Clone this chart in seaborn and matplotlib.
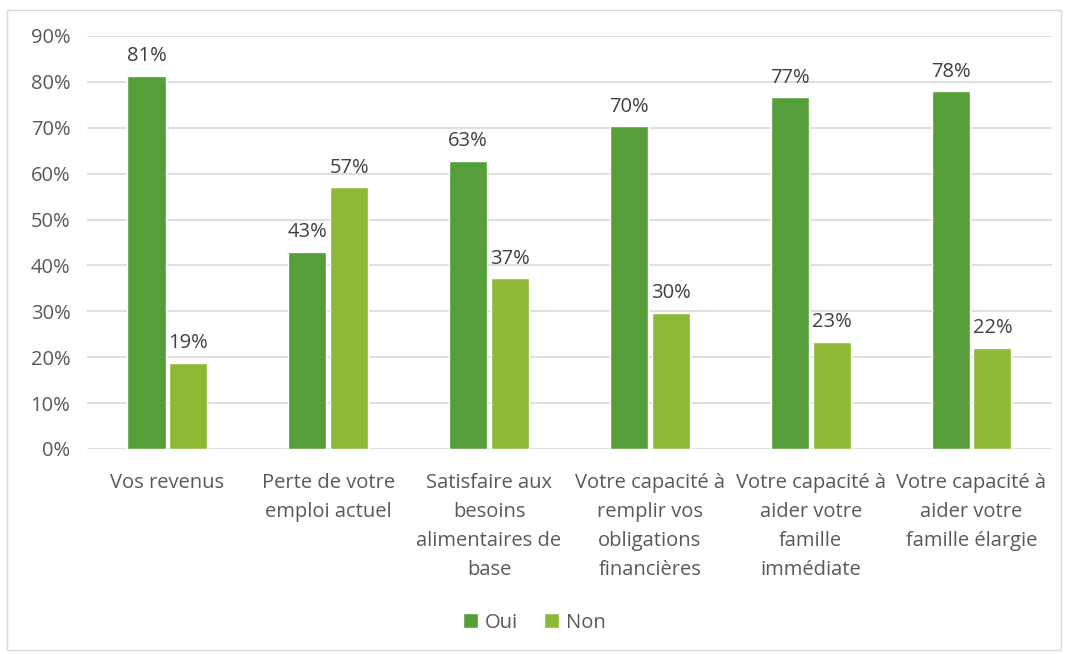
import pandas as pd
import numpy as np
import seaborn as sns
import matplotlib.pyplot as plt
from matplotlib.patches import Rectangle

categories = ["Vos revenus",
              "Perte de votre\nemploi actuel",
              "Satisfaire aux\nbesoins\nalimentaires de\nbase",
              "Votre capacité à\nremplir vos\nobligations\nfinancières",
              "Votre capacité à\naider votre\nfamille\nimmédiate",
              "Votre capacité à\naider votre\nfamille élargie"]
oui = [81.3, 43.0, 62.8, 70.3, 76.6, 77.9]
non = [18.7, 57.0, 37.2, 29.7, 23.4, 22.1]
series = ["Oui", "Non"]
colors = ["#559E3A", "#8DB935"]

df = pd.DataFrame({"cat": categories * 2,
                   "val": oui + non,
                   "rep": ["Oui"] * len(oui) + ["Non"] * len(non)})

sns.set_style("white")
plt.rcParams['font.family'] = ['Open Sans', 'DejaVu Sans']
grey = "#595959"
fs = 14.5

fig = plt.figure(figsize=(10.69, 6.54), dpi=100)
ax = fig.add_axes([0.0814, 0.3135, 0.9026, 0.6315])
sns.barplot(data=df, x="cat", y="val", hue="rep", hue_order=series,
            palette=colors, width=0.52, gap=0.09, ax=ax, saturation=1)

for cont in ax.containers:
    ax.bar_label(cont, labels=["%d%%" % round(v) for v in cont.datavalues],
                 padding=7, fontsize=fs, color="#404040")

ax.set_ylim(0, 90)
ax.set_yticks(np.arange(0, 91, 10))
ax.set_yticklabels(["%d%%" % t for t in range(0, 91, 10)], fontsize=fs, color=grey)
ax.set_xlim(-0.5, len(categories) - 0.5)
ax.tick_params(axis="x", labelsize=fs, colors=grey, pad=17, length=0)
ax.tick_params(axis="y", length=0, pad=12)
for lab in ax.get_xticklabels():
    lab.set_linespacing(1.6)
ax.yaxis.grid(True, color="#D9D9D9", linewidth=1.2)
ax.set_axisbelow(True)
for s in ax.spines.values():
    s.set_visible(False)
ax.set_xlabel("")
ax.set_ylabel("")

handles, labels = ax.get_legend_handles_labels()
ax.legend_.remove()
fig.legend(handles, labels, loc="center", bbox_to_anchor=(0.5, 0.048), ncol=2,
           frameon=False, fontsize=fs, handlelength=0.75, handleheight=0.75,
           columnspacing=1.3, handletextpad=0.35, labelcolor=grey)

fig.patches.append(Rectangle((7 / 1069, 4 / 654), 1054 / 1069, 640 / 654,
                             transform=fig.transFigure, fill=False,
                             edgecolor="#D9D9D9", linewidth=1))

fig.savefig("out.png", dpi=100)
